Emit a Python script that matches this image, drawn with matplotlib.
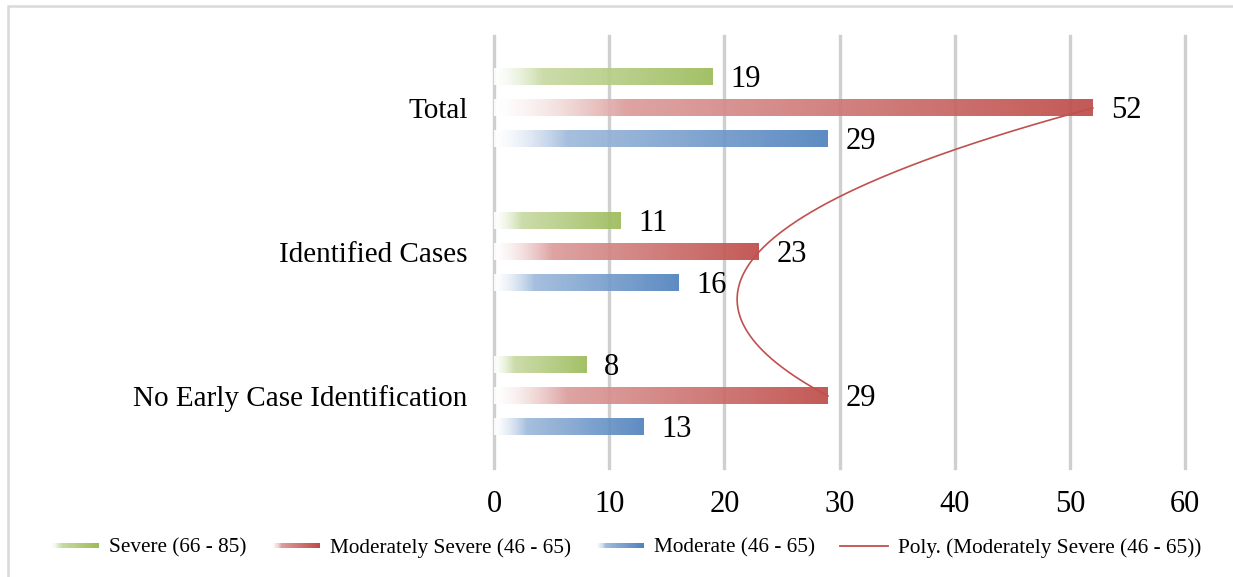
import numpy as np
import matplotlib
matplotlib.use("Agg")
import matplotlib.pyplot as plt
from matplotlib.patches import Rectangle
from matplotlib.lines import Line2D
from matplotlib.legend_handler import HandlerBase
from matplotlib.colors import to_rgb

plt.rcParams["font.family"] = ["Liberation Serif", "DejaVu Serif"]

# data, bottom category first
categories = ["No Early Case Identification", "Identified Cases", "Total"]
severe = [8, 11, 19]
mod_severe = [29, 23, 52]
moderate = [13, 16, 29]

series_names = ["Severe (66 - 85)", "Moderately Severe (46 - 65)", "Moderate (46 - 65)"]
trend_name = "Poly. (Moderately Severe (46 - 65))"
colors = ["#9BBB59", "#BE4B48", "#4F81BD"]
xticks = [0, 10, 20, 30, 40, 50, 60]


def grad_color(color, t):
    """Excel-like gradient: nearly white on the left, full colour on the right."""
    c = np.array(to_rgb(color))
    if t < 0.22:
        m = 0.55 * (t / 0.22) ** 1.5
    else:
        m = 0.55 + 0.45 * (t - 0.22) / 0.78
    return tuple(1 - m * (1 - c))


def grad_image(color, n=200):
    img = np.ones((1, n, 4))
    for i in range(n):
        img[0, i, :3] = grad_color(color, (i + 0.5) / n)
    return img


class GradientHandler(HandlerBase):
    def __init__(self, color):
        super().__init__()
        self.color = color

    def create_artists(self, legend, orig_handle, xdescent, ydescent,
                       width, height, fontsize, trans):
        n = 40
        h = height * 0.38
        y0 = -ydescent + (height - h) / 2
        arts = []
        for i in range(n):
            t = (i + 0.5) / n
            arts.append(Rectangle((-xdescent + width * i / n, y0), width / n * 1.1, h,
                                  facecolor=grad_color(self.color, t),
                                  edgecolor="none", transform=trans))
        return arts


fig = plt.figure(figsize=(12.33, 5.77), dpi=100)
ax = fig.add_axes([494 / 1233, 1 - 468 / 577, (1185 - 494) / 1233, (468 - 36) / 577])

# outer frame
fig.patches.append(Rectangle((8 / 1233, -0.05), 1.1, 1 - 6 / 577 + 0.05,
                             transform=fig.transFigure, fill=False,
                             edgecolor="#d9d9d9", linewidth=1.8, zorder=0))

y = np.arange(len(categories))
offset = 0.215
bar_h = 0.115
offsets = [offset, 0, -offset]
all_series = [severe, mod_severe, moderate]

for vals, col, off in zip(all_series, colors, offsets):
    img = grad_image(col)
    for yi, v in zip(y, vals):
        yc = yi + off
        ax.imshow(img, extent=(0, v, yc - bar_h / 2, yc + bar_h / 2),
                  aspect="auto", interpolation="bilinear", alpha=0.92, zorder=2)
        ax.annotate(str(v), (v, yc), xytext=(13, -1.5), textcoords="offset points",
                    va="center", ha="left", fontsize=22, zorder=4)

# polynomial (order 2) trendline on the middle series
coef = np.polyfit(y, mod_severe, 2)
ts = np.linspace(y[0], y[-1], 300)
ax.plot(np.polyval(coef, ts), ts, color="#C0504D", linewidth=1.2, zorder=3)

ax.set_xlim(0, 60)
ax.set_ylim(-0.5, 2.5)
ax.set_xticks(xticks)
ax.set_xticklabels([str(t) for t in xticks], fontsize=22)
ax.set_yticks(y)
ax.set_yticklabels(categories, fontsize=21)
ax.tick_params(axis="both", length=0)
ax.tick_params(axis="x", pad=16)
ax.tick_params(axis="y", pad=19)
for s in ax.spines.values():
    s.set_visible(False)
for xt in xticks:
    ax.axvline(xt, color="#cfcfcf", linewidth=2.4, zorder=0, clip_on=False)

handles = [Rectangle((0, 0), 1, 1) for _ in colors] + [Line2D([], [], color="#C0504D", lw=1.3)]
handler_map = {h: GradientHandler(c) for h, c in zip(handles[:3], colors)}
fig.legend(handles, series_names + [trend_name], handler_map=handler_map,
           loc="center", bbox_to_anchor=(626 / 1233, 1 - 548 / 577), ncol=4,
           frameon=False, fontsize=15.3, handlelength=2.26, handletextpad=0.47,
           columnspacing=1.18)

fig.savefig("out.png", dpi=100)
